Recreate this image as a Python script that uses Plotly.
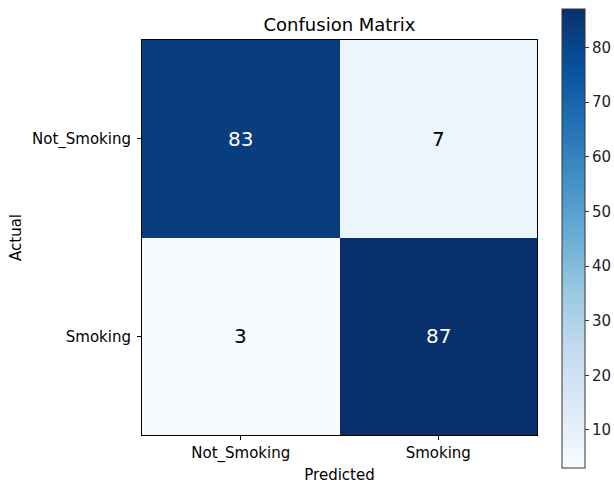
import plotly.graph_objects as go

labels = ["Not_Smoking", "Smoking"]
values = [[83, 7], [3, 87]]
cbar_ticks = [10, 20, 30, 40, 50, 60, 70, 80]

blues = ["#f7fbff", "#deebf7", "#c6dbef", "#9ecae1", "#6baed6",
         "#4292c6", "#2171b5", "#08519c", "#08306b"]
colorscale = [[i / (len(blues) - 1), c] for i, c in enumerate(blues)]

zmin = min(min(r) for r in values)
zmax = max(max(r) for r in values)
thresh = zmax / 2.0

W, H = 614, 484
L, R, T, B = 142, 77, 40, 49
ph = H - T - B
pw = W - L - R

fig = go.Figure(go.Heatmap(
    z=values, x=labels, y=labels,
    colorscale=colorscale, zmin=zmin, zmax=zmax,
    xgap=0, ygap=0, hoverinfo="skip",
    colorbar=dict(
        x=(562 - L) / pw, xanchor="left", xpad=0, ypad=0,
        y=(H - B - 238.7) / ph, yanchor="middle",
        thickness=23, thicknessmode="pixels",
        len=459, lenmode="pixels",
        outlinewidth=1, outlinecolor="#333333",
        tickvals=cbar_ticks, ticks="outside", ticklen=4, tickcolor="#333333",
        tickfont=dict(family="DejaVu Sans", size=15, color="#222222"),
    ),
))

for i, row in enumerate(values):
    for j, v in enumerate(row):
        fig.add_annotation(
            x=labels[j], y=labels[i], text=str(v), showarrow=False,
            font=dict(family="DejaVu Sans", size=20,
                      color="white" if v > thresh else "black"),
        )

fig.update_layout(
    width=W, height=H,
    margin=dict(l=L, r=R, t=T, b=B, autoexpand=False),
    paper_bgcolor="white", plot_bgcolor="white",
    title=dict(text="Confusion Matrix", x=(L + pw / 2) / W, xanchor="center",
               y=1 - 25 / H, yanchor="middle",
               font=dict(family="DejaVu Sans", size=18, color="black")),
    font=dict(family="DejaVu Sans", size=15, color="black"),
)
fig.update_xaxes(
    title=dict(text="Predicted", standoff=8, font=dict(size=15)),
    showline=True, linecolor="black", linewidth=1, mirror=True,
    ticks="outside", ticklen=4, tickcolor="black", showgrid=False, zeroline=False,
    tickfont=dict(size=15), automargin=False,
)
fig.update_yaxes(
    title=dict(text="Actual", standoff=6, font=dict(size=15)),
    showline=True, linecolor="black", linewidth=1, mirror=True,
    ticks="outside", ticklen=4, tickcolor="black", showgrid=False, zeroline=False,
    tickfont=dict(size=15), autorange="reversed", automargin=False,
    ticklabelstandoff=3,
)

fig.write_html("out.html", config={"displayModeBar": False},
               post_script="document.body.style.margin='0';document.body.style.overflow='hidden';")
